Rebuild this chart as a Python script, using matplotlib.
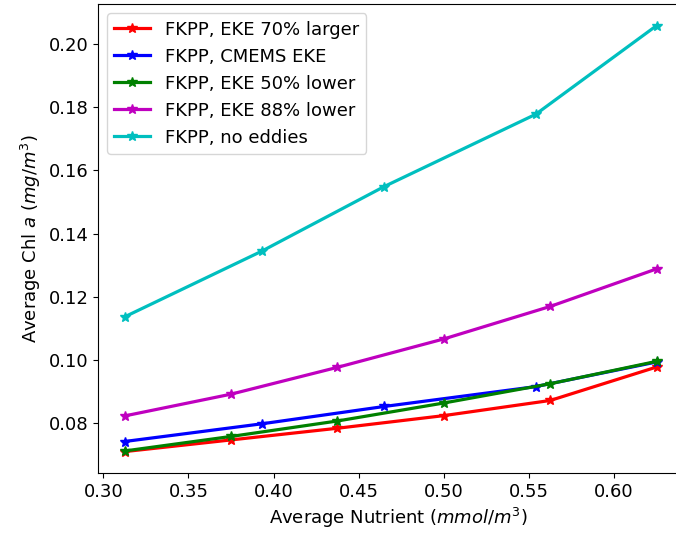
# -*- coding: utf-8 -*-
# chlorophyll vs nutrient for the FKPP runs

import matplotlib as mpl
mpl.use('Agg')
import matplotlib.pyplot as plt

# x positions (average nutrient, mmol/m^3)
nut_a = [0.3125, 0.393, 0.465, 0.554, 0.625]
nut_b = [0.3125, 0.375, 0.4375, 0.5, 0.5625, 0.625]

# average chl a (mg/m^3)
chl_larger = [0.0709, 0.0746, 0.0783, 0.0823, 0.0871, 0.0977]
chl_cmems = [0.0741, 0.0797, 0.0852, 0.0915, 0.0993]
chl_lower50 = [0.0711, 0.0757, 0.0806, 0.0863, 0.0924, 0.0995]
chl_lower88 = [0.0822, 0.0891, 0.0976, 0.1066, 0.1169, 0.1288]
chl_noeddy = [0.1136, 0.1344, 0.1549, 0.1778, 0.2059]

labels = ['FKPP, EKE 70% larger', 'FKPP, CMEMS EKE', 'FKPP, EKE 50% lower',
          'FKPP, EKE 88% lower', 'FKPP, no eddies']

plt.rcParams['font.size'] = 13

fig = plt.figure(figsize=(6.76, 5.38), dpi=100)
# the right spine sits past the picture edge (reference is cropped)
ax = fig.add_axes([0.145, 0.121, 0.89, 0.871])
ax.spines['right'].set_visible(False)

lw, ms = 2.3, 7
ax.plot(nut_b, chl_larger, 'r*-', lw=lw, ms=ms, label=labels[0])
ax.plot(nut_a, chl_cmems, 'b*-', lw=lw, ms=ms, label=labels[1])
ax.plot(nut_b, chl_lower50, 'g*-', lw=lw, ms=ms, label=labels[2])
ax.plot(nut_b, chl_lower88, 'm*-', lw=lw, ms=ms, label=labels[3])
ax.plot(nut_a, chl_noeddy, 'c*-', lw=lw, ms=ms, label=labels[4])

ax.set_xlim(0.29688, 0.6503)
ax.set_xticks([0.30, 0.35, 0.40, 0.45, 0.50, 0.55, 0.60])
ax.set_yticks([0.08, 0.10, 0.12, 0.14, 0.16, 0.18, 0.20])
ax.set_xlabel('Average Nutrient ($mmol/m^3$)')
ax.set_ylabel('Average Chl $a$ ($mg/m^3$)')
ax.legend(loc='upper left')

plt.savefig('out.png', dpi=100)
plt.close('all')
